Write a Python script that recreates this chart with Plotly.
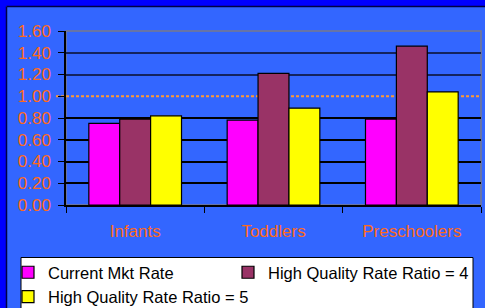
import plotly.graph_objects as go

categories = ["Infants", "Toddlers", "Preschoolers"]
current_mkt = [0.75, 0.78, 0.79]
hq_ratio4 = [0.79, 1.21, 1.46]
hq_ratio5 = [0.82, 0.89, 1.04]
series_names = ["Current Mkt Rate", "High Quality Rate Ratio = 4", "High Quality Rate Ratio = 5"]
y_ticks = [0.0, 0.2, 0.4, 0.6, 0.8, 1.0, 1.2, 1.4, 1.6]
grid_low = [0.2, 0.4, 0.6, 0.8]
grid_high = [1.2, 1.4]
ref_line = 1.0

W, H = 485, 308
L, R, T, B = 66, 4, 31, 103
PW, PH = W - L - R, H - T - B

def fx(px):
    return (px - L) / PW

def fy(py):
    return (H - B - py) / PH

ORANGE = "#FF6A1A"
FONT = "Liberation Sans, Arial, sans-serif"

fig = go.Figure()
colors = ["#FF00FF", "#993366", "#FFFF00"]
legend_ids = ["legend", "legend2", "legend"]
for name, vals, col, lg in zip(series_names, [current_mkt, hq_ratio4, hq_ratio5], colors, legend_ids):
    fig.add_trace(go.Bar(x=categories, y=vals, name=name, legend=lg,
                         marker=dict(color=col, line=dict(color="black", width=1.2))))
# empty helper traces so the overlay grid axes get drawn
fig.add_trace(go.Scatter(x=[], y=[], yaxis="y2", showlegend=False, hoverinfo="skip"))
fig.add_trace(go.Scatter(x=[], y=[], yaxis="y3", showlegend=False, hoverinfo="skip"))

shapes = [
    # blue frame (left & top)
    dict(type="rect", xref="paper", yref="paper", x0=fx(-5), x1=fx(6), y0=fy(H + 5), y1=fy(-5),
         fillcolor="#0000FF", line=dict(width=0), layer="below"),
    dict(type="rect", xref="paper", yref="paper", x0=fx(-5), x1=fx(W + 5), y0=fy(6), y1=fy(-5),
         fillcolor="#0000FF", line=dict(width=0), layer="below"),
    dict(type="line", xref="paper", yref="paper", x0=fx(6.5), x1=fx(W + 5), y0=fy(6.5), y1=fy(6.5),
         line=dict(color="#000044", width=1.5), layer="below"),
    dict(type="line", xref="paper", yref="paper", x0=fx(6.5), x1=fx(6.5), y0=fy(H + 5), y1=fy(6.5),
         line=dict(color="#000044", width=1.5), layer="below"),
    # plot border (gray)
    dict(type="rect", xref="paper", yref="paper", x0=0, x1=1, y0=0, y1=1,
         line=dict(color="#7a7a8a", width=1.5), layer="below"),
    # dotted reference line
    dict(type="line", xref="paper", yref="y", x0=fx(56), x1=1, y0=ref_line, y1=ref_line,
         line=dict(color="#FF9933", width=2, dash="3px,2px"), layer="below"),
    # legend box
    dict(type="rect", xref="paper", yref="paper", x0=fx(21), x1=fx(473), y0=fy(H + 5), y1=fy(257.5),
         fillcolor="white", line=dict(color="black", width=1), layer="below"),
]

legend_common = dict(orientation="v", yanchor="top", xanchor="left",
                     bgcolor="rgba(0,0,0,0)", borderwidth=0,
                     font=dict(family=FONT, size=16.5, color="black"), traceorder="normal")

fig.update_layout(
    width=W, height=H,
    margin=dict(l=L, r=R, t=T, b=B, pad=0, autoexpand=False),
    paper_bgcolor="#3366FF",
    plot_bgcolor="rgba(0,0,0,0)",
    barmode="group", bargap=0.33, bargroupgap=0,
    font=dict(family=FONT, color=ORANGE, size=17),
    shapes=shapes,
    xaxis=dict(type="category", showline=True, linecolor="black", linewidth=1.5,
               ticks="outside", ticklen=6, tickcolor="black", tickson="boundaries",
               showgrid=False, tickfont=dict(size=17, color=ORANGE), ticklabelstandoff=10),
    yaxis=dict(range=[0, 1.6], tickvals=y_ticks, ticktext=[f"{v:.2f}" for v in y_ticks],
               showgrid=False, showline=True, linecolor="black", linewidth=1.5,
               ticks="outside", ticklen=6, tickcolor="black", zeroline=False,
               tickfont=dict(size=17, color=ORANGE), ticklabelstandoff=4),
    yaxis2=dict(range=[0, 1.6], overlaying="y", anchor="x", tickvals=grid_low,
                showticklabels=False, showgrid=True, gridcolor="black", gridwidth=1.5,
                zeroline=False, showline=False, ticks=""),
    yaxis3=dict(range=[0, 1.6], overlaying="y", anchor="x", tickvals=grid_high,
                showticklabels=False, showgrid=True, gridcolor="#14235e", gridwidth=1.5,
                zeroline=False, showline=False, ticks=""),
    legend=dict(x=fx(8), y=fy(255), **legend_common),
    legend2=dict(x=fx(228), y=fy(255), **legend_common),
    showlegend=True,
)

fig.write_html("out.html", post_script="document.body.style.margin='0';",
               config={"displayModeBar": False})
